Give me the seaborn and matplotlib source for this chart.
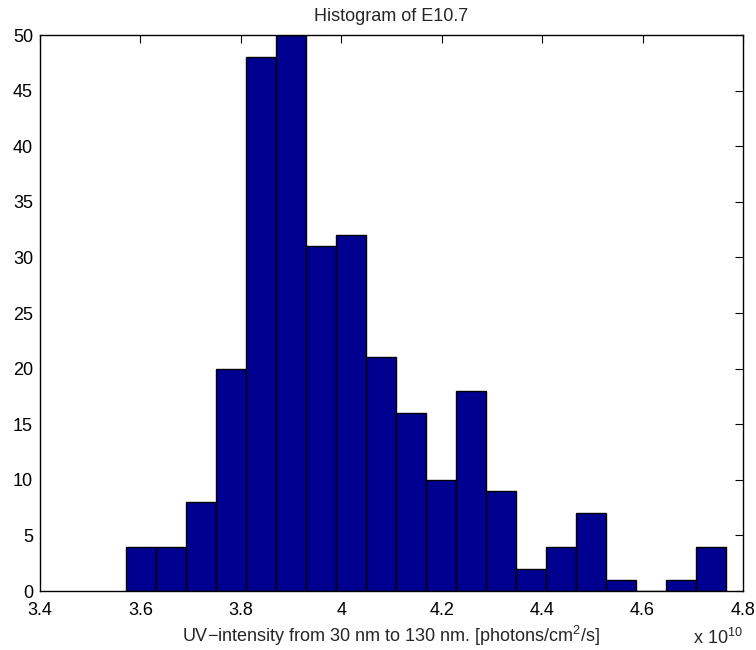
import numpy as np
import pandas as pd
import matplotlib
matplotlib.use("Agg")
import matplotlib.pyplot as plt
import seaborn as sns

# Histogram counts of the E10.7 UV intensity (units of 1e10 photons/cm^2/s)
counts = [4, 4, 8, 20, 48, 50, 31, 32, 21, 16, 10, 18, 9, 2, 4, 7, 1, 0, 1, 4]
data_min = 3.571
data_max = 4.767
x_ticks = [3.4, 3.6, 3.8, 4.0, 4.2, 4.4, 4.6, 4.8]
x_tick_labels = ["3.4", "3.6", "3.8", "4", "4.2", "4.4", "4.6", "4.8"]
y_ticks = [0, 5, 10, 15, 20, 25, 30, 35, 40, 45, 50]

sns.set_style("white")
plt.rcParams["font.family"] = ["Liberation Sans", "DejaVu Sans"]
plt.rcParams["mathtext.fontset"] = "custom"
plt.rcParams["mathtext.rm"] = "Liberation Sans"

edges = np.linspace(data_min, data_max, len(counts) + 1)
centers = (edges[:-1] + edges[1:]) / 2
df = pd.DataFrame({"center": centers, "count": counts})

W, H = 756, 650
fig = plt.figure(figsize=(W / 100, H / 100), dpi=100)
ax = fig.add_axes([40 / W, (H - 591) / H, 703 / W, 556 / H])

sns.histplot(data=df, x="center", weights="count", bins=len(counts),
             binrange=(data_min, data_max), ax=ax,
             color="#000090", edgecolor="black", linewidth=1.0, alpha=1.0)

ax.set_xlim(3.4, 4.8)
ax.set_ylim(0, 50)
ax.set_xticks(x_ticks)
ax.set_xticklabels(x_tick_labels)
ax.set_yticks(y_ticks)
ax.tick_params(direction="in", length=6, width=0.8, top=True, right=True,
               labelsize=13, colors="black")
ax.tick_params(axis="x", pad=8)
ax.tick_params(axis="y", pad=5)
for s in ax.spines.values():
    s.set_visible(True)
    s.set_color("black")
    s.set_linewidth(1.0)

ax.set_ylabel("")
ax.set_xlabel("UV\u2212intensity from 30 nm to 130 nm. [photons/cm$^2$/s]",
              fontsize=13, va="baseline")
ax.xaxis.set_label_coords(0.5, (591 - 642) / 556)
ax.set_title("Histogram of E10.7", fontsize=13, va="baseline", pad=10)

# exponent of the x axis, under the right end of the tick labels
fig.text(743 / W, 1 - 644 / H, "x 10$^{10}$", ha="right", va="baseline",
         fontsize=13)

fig.savefig("out.png", dpi=100)
